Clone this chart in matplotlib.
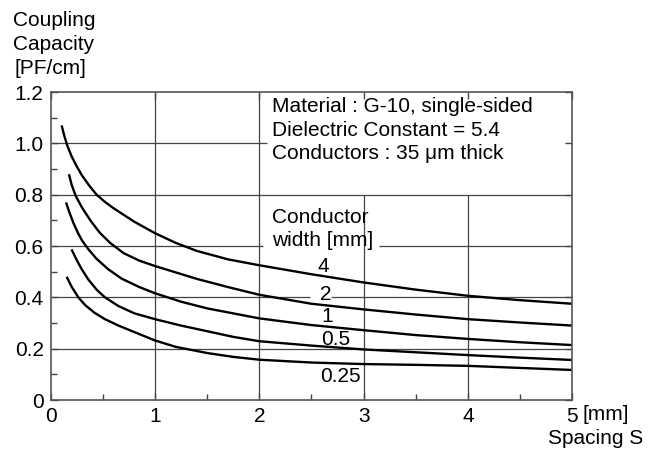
import numpy as np
import matplotlib
matplotlib.use("Agg")
import matplotlib.pyplot as plt

# Curve data: spacing S [mm] vs coupling capacity [pF/cm]
x_w4 = [0.105, 0.13, 0.16, 0.2, 0.25, 0.3, 0.37, 0.44, 0.52, 0.6, 0.8, 1.0, 1.2, 1.4,
        1.7, 2.0, 2.5, 3.0, 3.5, 4.0, 4.5, 5.0]
y_w4 = [1.07, 1.03, 0.99, 0.95, 0.91, 0.875, 0.835, 0.80, 0.772, 0.748, 0.695, 0.650,
        0.612, 0.581, 0.548, 0.525, 0.49, 0.458, 0.43, 0.406, 0.389, 0.375]

x_w2 = [0.175, 0.2, 0.24, 0.3, 0.38, 0.47, 0.57, 0.7, 0.85, 1.0, 1.2, 1.4, 1.7, 2.0,
        2.5, 3.0, 3.5, 4.0, 4.5, 5.0]
y_w2 = [0.88, 0.84, 0.795, 0.75, 0.70, 0.652, 0.612, 0.572, 0.543, 0.522, 0.497, 0.472,
        0.44, 0.41, 0.375, 0.353, 0.333, 0.315, 0.302, 0.29]

x_w1 = [0.147, 0.18, 0.22, 0.26, 0.3, 0.36, 0.44, 0.55, 0.68, 0.85, 1.0, 1.25, 1.5,
        2.0, 2.5, 3.0, 3.5, 4.0, 4.5, 5.0]
y_w1 = [0.77, 0.73, 0.688, 0.652, 0.622, 0.588, 0.55, 0.51, 0.473, 0.44, 0.416, 0.383,
        0.357, 0.318, 0.292, 0.272, 0.253, 0.238, 0.225, 0.214]

x_w05 = [0.2, 0.25, 0.3, 0.36, 0.44, 0.52, 0.65, 0.8, 1.0, 1.25, 1.5, 1.75, 2.0, 2.5,
         3.0, 3.5, 4.0, 4.5, 5.0]
y_w05 = [0.587, 0.545, 0.508, 0.47, 0.43, 0.40, 0.366, 0.338, 0.315, 0.29, 0.268, 0.246,
         0.229, 0.212, 0.197, 0.186, 0.175, 0.165, 0.156]

x_w025 = [0.153, 0.2, 0.265, 0.33, 0.42, 0.52, 0.65, 0.8, 1.0, 1.2, 1.5, 1.75, 2.0, 2.5,
          3.0, 3.5, 4.0, 4.5, 5.0]
y_w025 = [0.48, 0.442, 0.40, 0.37, 0.34, 0.315, 0.29, 0.265, 0.232, 0.207, 0.183, 0.168,
          0.157, 0.146, 0.14, 0.137, 0.133, 0.125, 0.117]

curve_labels = ["4", "2", "1", "0.5", "0.25"]
label_x = [2.61, 2.64, 2.65, 2.73, 2.78]
label_y = [0.52, 0.413, 0.325, 0.234, 0.09]

x_ticks = [0, 1, 2, 3, 4, 5]
x_ticklabels = ["0", "1", "2", "3", "4", "5"]
y_ticks = [0, 0.2, 0.4, 0.6, 0.8, 1.0, 1.2]
y_ticklabels = ["0", "0.2", "0.4", "0.6", "0.8", "1.0", "1.2"]

info_lines = ["Material : G-10, single-sided",
              "Dielectric Constant = 5.4",
              "Conductors : 35 \u03bcm thick"]

plt.rcParams['font.family'] = ['Liberation Sans', 'DejaVu Sans']
fs = 15
grid_c = '#444444'
grid_lw = 0.9

fig = plt.figure(figsize=(6.54, 4.5), dpi=100)
ax = fig.add_axes([0.0775, 0.1111, 0.7975, 0.6844])
ax.set_xlim(0, 5)
ax.set_ylim(0, 1.2)

# Grid lines, interrupted where the text sits
ax.hlines(1.0, 0, 2.07, color=grid_c, lw=grid_lw)
ax.hlines(0.8, 0, 5, color=grid_c, lw=grid_lw)
ax.hlines(0.6, 0, 2.04, color=grid_c, lw=grid_lw)
ax.hlines(0.6, 3.15, 5, color=grid_c, lw=grid_lw)
ax.hlines(0.4, 0, 2.49, color=grid_c, lw=grid_lw)
ax.hlines(0.4, 2.69, 5, color=grid_c, lw=grid_lw)
ax.hlines(0.2, 0, 5, color=grid_c, lw=grid_lw)
ax.vlines([1, 2], 0, 1.2, color=grid_c, lw=grid_lw)
ax.vlines([3, 4], 0, 0.8, color=grid_c, lw=grid_lw)

# Curves
for xs, ys in [(x_w4, y_w4), (x_w2, y_w2), (x_w1, y_w1), (x_w05, y_w05), (x_w025, y_w025)]:
    ax.plot(xs, ys, color='black', lw=1.7, solid_capstyle='butt', solid_joinstyle='round')

for lab, lx, ly in zip(curve_labels, label_x, label_y):
    ax.text(lx, ly, lab, fontsize=fs, ha='center', va='center')

# Text block
for i, line in enumerate(info_lines):
    ax.text(2.12, 1.145 - i * 0.093, line, fontsize=fs, ha='left', va='center')
ax.text(2.12, 0.712, "Conductor", fontsize=fs, ha='left', va='center')
ax.text(2.12, 0.623, "width [mm]", fontsize=fs, ha='left', va='center')

# Axes styling
for s in ax.spines.values():
    s.set_color('#555555')
    s.set_linewidth(1.2)

ax.set_xticks(x_ticks)
ax.set_xticklabels(x_ticklabels, fontsize=fs)
ax.set_yticks(y_ticks)
ax.set_yticklabels(y_ticklabels, fontsize=fs)
ax.set_xticks(np.arange(0.5, 5, 1.0), minor=True)
ax.set_yticks(np.arange(0.1, 1.2, 0.2), minor=True)
ax.tick_params(which='major', direction='in', length=5, width=1, color='#444444',
               top=True, right=True, pad=5)
ax.tick_params(which='minor', direction='in', length=4.5, width=1, color='#444444',
               top=False, right=False)

# Axis titles
ax.text(5.1, -0.058, "[mm]", fontsize=fs, ha='left', va='center', clip_on=False)
fig.text(643 / 654, 1 - 439 / 450, "Spacing S", fontsize=fs, ha='right', va='center')
fig.text(13 / 654, 1 - 20.7 / 450, "Coupling", fontsize=fs, ha='left', va='center')
fig.text(13 / 654, 1 - 45 / 450, "Capacity", fontsize=fs, ha='left', va='center')
fig.text(15 / 654, 1 - 69 / 450, "[PF/cm]", fontsize=fs, ha='left', va='center')

fig.savefig("out.png", dpi=100)
